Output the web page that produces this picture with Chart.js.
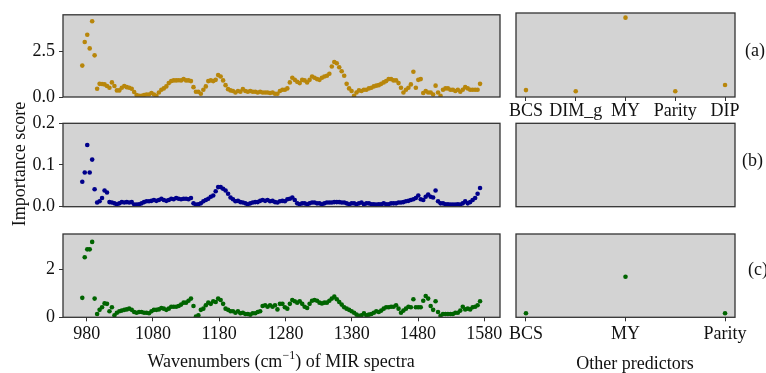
<!DOCTYPE html>
<html>
<head>
<meta charset="utf-8">
<title>Importance scores</title>
<script src="https://cdn.jsdelivr.net/npm/chart.js@4.4.1/dist/chart.umd.min.js"></script>
<style>
  body { margin: 0; background: #fff; }
  #wrap { position: relative; width: 766px; height: 373px; overflow: hidden;
          font-family: 'Liberation Serif', 'Times New Roman', serif; color: #111; }
  #wrap canvas { position: absolute; }
  .txt { position: absolute; font-size: 18px; line-height: 18px; white-space: nowrap; }
  .txt sup { font-size: 12px; vertical-align: 8px; line-height: 0; }
</style>
</head>
<body>
<div id="wrap">
  <canvas id="leftA"></canvas>
  <canvas id="leftB"></canvas>
  <canvas id="leftC"></canvas>
  <canvas id="rightA"></canvas>
  <canvas id="rightB"></canvas>
  <canvas id="rightC"></canvas>

  <div class="txt" style="left:-81px;top:155px;width:200px;text-align:center;transform:rotate(-90deg);">Importance score</div>
  <div class="txt" style="left:131px;top:352px;width:300px;text-align:center;">Wavenumbers (cm<sup>−1</sup>) of MIR spectra</div>
  <div class="txt" style="left:555px;top:354px;width:160px;text-align:center;">Other predictors</div>
  <div class="txt" style="left:745px;top:41px;">(a)</div>
  <div class="txt" style="left:742px;top:151px;">(b)</div>
  <div class="txt" style="left:748px;top:260px;">(c)</div>
</div>

<script>
// MIR wavenumbers (cm-1) of the plotted points
const wavenumbers = [
  973.4, 977.1, 980.9, 984.6, 988.3, 992.0, 995.8, 999.5, 1003.2, 1007.0,
  1010.7, 1014.4, 1018.1, 1021.9, 1025.6, 1029.3, 1033.0, 1036.8, 1040.5, 1044.2,
  1048.0, 1051.7, 1055.4, 1059.1, 1062.9, 1066.6, 1070.3, 1074.1, 1077.8, 1081.5,
  1085.2, 1089.0, 1092.7, 1096.4, 1100.2, 1103.9, 1107.6, 1111.3, 1115.1, 1118.8,
  1122.5, 1126.3, 1130.0, 1133.7, 1137.4, 1141.2, 1144.9, 1148.6, 1152.3, 1156.1,
  1159.8, 1163.5, 1167.3, 1171.0, 1174.7, 1178.4, 1182.2, 1185.9, 1189.6, 1193.4,
  1197.1, 1200.8, 1204.5, 1208.3, 1212.0, 1215.7, 1219.5, 1223.2, 1226.9, 1230.6,
  1234.4, 1238.1, 1241.8, 1245.5, 1249.3, 1253.0, 1256.7, 1260.5, 1264.2, 1267.9,
  1271.6, 1275.4, 1279.1, 1282.8, 1286.6, 1290.3, 1294.0, 1297.7, 1301.5, 1305.2,
  1308.9, 1312.7, 1316.4, 1320.1, 1323.8, 1327.6, 1331.3, 1335.0, 1338.7, 1342.5,
  1346.2, 1349.9, 1353.7, 1357.4, 1361.1, 1364.8, 1368.6, 1372.3, 1376.0, 1379.8,
  1383.5, 1387.2, 1390.9, 1394.7, 1398.4, 1402.1, 1405.9, 1409.6, 1413.3, 1417.0,
  1420.8, 1424.5, 1428.2, 1431.9, 1435.7, 1439.4, 1443.1, 1446.9, 1450.6, 1454.3,
  1458.0, 1461.8, 1465.5, 1469.2, 1473.0, 1476.7, 1480.4, 1484.1, 1487.9, 1491.6,
  1495.3, 1499.1, 1502.8, 1506.5, 1510.2, 1514.0, 1517.7, 1521.4, 1525.1, 1528.9,
  1532.6, 1536.3, 1540.1, 1543.8, 1547.5, 1551.2, 1555.0, 1558.7, 1562.4, 1566.2,
  1569.9, 1573.6
];

// (a) importance scores
const scoreA = [
  1.72, 3.01, 3.41, 2.66, 4.15, 2.28, 0.45, 0.72, 0.71, 0.69,
  0.60, 0.51, 0.80, 0.60, 0.36, 0.36, 0.51, 0.60, 0.54, 0.51,
  0.45, 0.27, 0.11, 0.07, 0.07, 0.11, 0.14, 0.14, 0.22, 0.14,
  0.07, 0.25, 0.40, 0.47, 0.58, 0.76, 0.87, 0.91, 0.91, 0.92,
  0.91, 0.98, 0.91, 0.91, 0.87, 0.54, 0.29, 0.29, 0.18, 0.40,
  0.58, 0.87, 0.91, 0.87, 0.94, 1.20, 1.12, 0.91, 0.65, 0.43,
  0.36, 0.33, 0.25, 0.33, 0.29, 0.43, 0.33, 0.29, 0.33, 0.29,
  0.29, 0.25, 0.29, 0.25, 0.25, 0.25, 0.22, 0.25, 0.18, 0.18,
  0.33, 0.40, 0.40, 0.47, 0.80, 1.05, 0.94, 0.83, 0.76, 0.94,
  0.91, 0.80, 0.94, 1.12, 1.05, 0.98, 0.94, 1.05, 1.12, 1.16,
  1.27, 1.67, 1.92, 1.85, 1.63, 1.41, 1.16, 0.72, 0.47, 0.33,
  0.07, 0.25, 0.36, 0.33, 0.40, 0.40, 0.47, 0.51, 0.58, 0.62,
  0.65, 0.72, 0.80, 0.87, 0.98, 0.98, 0.91, 0.91, 0.76, 0.51,
  0.25, 0.40, 0.51, 0.69, 1.38, 0.51, 0.94, 0.98, 0.22, 0.33,
  0.25, 0.25, 0.14, 0.62, 0.25, 0.07, 0.40, 0.47, 0.47, 0.40,
  0.40, 0.33, 0.40, 0.29, 0.40, 0.54, 0.47, 0.40, 0.40, 0.40,
  0.40, 0.72
];

// (b) importance scores
const scoreB = [
  0.060, 0.082, 0.148, 0.082, 0.113, 0.042, 0.010, 0.013, 0.021, 0.039,
  0.034, 0.011, 0.010, 0.008, 0.006, 0.008, 0.011, 0.010, 0.011, 0.010,
  0.011, 0.005, 0.005, 0.006, 0.008, 0.011, 0.013, 0.013, 0.014, 0.016,
  0.014, 0.016, 0.019, 0.016, 0.014, 0.016, 0.019, 0.018, 0.021, 0.019,
  0.018, 0.019, 0.019, 0.018, 0.021, 0.008, 0.005, 0.006, 0.008, 0.013,
  0.016, 0.019, 0.024, 0.027, 0.037, 0.047, 0.047, 0.043, 0.039, 0.031,
  0.022, 0.018, 0.013, 0.014, 0.011, 0.010, 0.008, 0.006, 0.008, 0.010,
  0.011, 0.011, 0.014, 0.016, 0.014, 0.016, 0.013, 0.014, 0.011, 0.010,
  0.013, 0.014, 0.013, 0.018, 0.019, 0.022, 0.016, 0.008, 0.006, 0.008,
  0.008, 0.006, 0.008, 0.010, 0.010, 0.008, 0.008, 0.006, 0.008, 0.010,
  0.010, 0.010, 0.011, 0.011, 0.011, 0.010, 0.010, 0.008, 0.006, 0.008,
  0.008, 0.006, 0.008, 0.010, 0.006, 0.008, 0.008, 0.006, 0.006, 0.005,
  0.006, 0.006, 0.008, 0.006, 0.006, 0.008, 0.008, 0.008, 0.010, 0.010,
  0.011, 0.013, 0.014, 0.016, 0.018, 0.021, 0.027, 0.018, 0.016, 0.024,
  0.029, 0.024, 0.022, 0.039, 0.013, 0.008, 0.008, 0.006, 0.006, 0.005,
  0.005, 0.005, 0.006, 0.005, 0.008, 0.013, 0.008, 0.011, 0.016, 0.021,
  0.031, 0.045
];

// (c) importance scores
const scoreC = [
  0.81, 2.50, 2.83, 2.83, 3.14, 0.78, 0.14, 0.31, 0.42, 0.58,
  0.56, 0.25, 0.42, 0.08, 0.19, 0.25, 0.28, 0.31, 0.33, 0.36,
  0.31, 0.22, 0.19, 0.22, 0.22, 0.19, 0.19, 0.17, 0.25, 0.31,
  0.31, 0.33, 0.39, 0.36, 0.31, 0.36, 0.44, 0.44, 0.44, 0.47,
  0.53, 0.61, 0.61, 0.69, 0.78, 0.47, 0.03, 0.08, 0.31, 0.36,
  0.50, 0.61, 0.56, 0.67, 0.64, 0.78, 0.72, 0.56, 0.36, 0.31,
  0.25, 0.25, 0.19, 0.25, 0.17, 0.19, 0.14, 0.14, 0.11, 0.17,
  0.17, 0.22, 0.25, 0.47, 0.50, 0.44, 0.50, 0.44, 0.50, 0.33,
  0.56, 0.56, 0.42, 0.36, 0.56, 0.72, 0.67, 0.61, 0.67, 0.56,
  0.44, 0.39, 0.56, 0.69, 0.72, 0.69, 0.61, 0.58, 0.61, 0.61,
  0.69, 0.78, 0.86, 0.75, 0.64, 0.53, 0.42, 0.36, 0.31, 0.25,
  0.19, 0.11, 0.06, 0.08, 0.17, 0.08, 0.11, 0.14, 0.19, 0.25,
  0.22, 0.28, 0.36, 0.42, 0.42, 0.44, 0.44, 0.50, 0.36, 0.19,
  0.28, 0.36, 0.44, 0.42, 0.75, 0.42, 0.42, 0.42, 0.69, 0.89,
  0.78, 0.47, 0.31, 0.67, 0.22, 0.06, 0.14, 0.14, 0.14, 0.14,
  0.14, 0.19, 0.19, 0.28, 0.44, 0.33, 0.36, 0.33, 0.42, 0.44,
  0.50, 0.67
];

// other predictors
const predictorsA = ['BCS', 'DIM_g', 'MY', 'Parity', 'DIP'];
const predictorScoreA = [0.37, 0.31, 4.25, 0.31, 0.64];
const predictorsC = ['BCS', 'MY', 'Parity'];
const predictorScoreC = [0.17, 1.69, 0.17];

// tick labels
const wavenumberTicks = [980, 1080, 1180, 1280, 1380, 1480, 1580];
const yTicksA = [0, 2.5];
const yTicksB = [0, 0.1, 0.2];
const yTicksC = [0, 2];

const colorA = '#b8860b';
const colorB = '#00008b';
const colorC = '#006400';
const axisColor = '#333';
const textColor = '#111';

Chart.defaults.font.family = "'Liberation Serif', 'Times New Roman', serif";
Chart.defaults.font.size = 18;
Chart.defaults.color = textColor;

// grey background + dark frame like matplotlib axes
const panelFrame = {
  id: 'panelFrame',
  beforeDraw(chart) {
    const { ctx, chartArea: a } = chart;
    ctx.save();
    ctx.fillStyle = '#d3d3d3';
    ctx.fillRect(a.left, a.top, a.width, a.height);
    ctx.restore();
  },
  afterDraw(chart) {
    const { ctx, chartArea: a } = chart;
    ctx.save();
    ctx.strokeStyle = axisColor;
    ctx.lineWidth = 1.3;
    ctx.strokeRect(a.left, a.top, a.width, a.height);
    ctx.restore();
  }
};

function tickGrid() {
  return { display: true, drawOnChartArea: false, drawTicks: true, tickLength: 4, color: axisColor };
}

function axis(min, max, ticks, fmt, pad) {
  if (!ticks) return { type: 'linear', display: false, min: min, max: max };
  return {
    type: 'linear', min: min, max: max,
    afterBuildTicks: (s) => { s.ticks = ticks.map((v) => ({ value: v })); },
    grid: tickGrid(),
    border: { display: false },
    ticks: { padding: pad, maxRotation: 0, autoSkip: false, callback: fmt }
  };
}

// box = canvas rect on the page, area = wanted plot rect on the page
function panel(id, box, area, points, color, scales) {
  const cv = document.getElementById(id);
  cv.width = box.w;
  cv.height = box.h;
  cv.style.left = box.x + 'px';
  cv.style.top = box.y + 'px';
  cv.style.width = box.w + 'px';
  cv.style.height = box.h + 'px';
  const padding = {
    left: area.l - box.x, top: area.t - box.y,
    right: box.x + box.w - area.r, bottom: box.y + box.h - area.b
  };
  const chart = new Chart(cv.getContext('2d'), {
    type: 'scatter',
    data: {
      datasets: [{
        data: points,
        backgroundColor: color,
        borderWidth: 0,
        pointRadius: 2.3,
        clip: 0
      }]
    },
    options: {
      responsive: false,
      animation: false,
      events: [],
      layout: { padding: padding },
      plugins: { legend: { display: false }, tooltip: { enabled: false } },
      scales: scales
    },
    plugins: [panelFrame]
  });
  // nudge the padding until the plot area sits where the reference has it
  for (let k = 0; k < 6; k++) {
    const a = chart.chartArea;
    const dl = area.l - box.x - a.left, dt = area.t - box.y - a.top;
    const dr = a.right - (area.r - box.x), db = a.bottom - (area.b - box.y);
    if (Math.abs(dl) + Math.abs(dt) + Math.abs(dr) + Math.abs(db) < 0.2) break;
    padding.left += dl; padding.top += dt; padding.right += dr; padding.bottom += db;
    chart.options.layout.padding = Object.assign({}, padding);
    chart.update();
  }
  return chart;
}

const xMin = 944.3, xMax = 1603.7;
const fmt1 = (v) => Number(v).toFixed(1);
const fmt0 = (v) => String(v);

panel('leftA', { x: 0, y: 0, w: 512, h: 118 }, { l: 63, t: 13, r: 500, b: 97 },
  wavenumbers.map((w, i) => ({ x: w, y: scoreA[i] })), colorA,
  { x: axis(xMin, xMax), y: axis(0, 4.5, yTicksA, fmt1, 4) });

panel('leftB', { x: 0, y: 104, w: 512, h: 124 }, { l: 63, t: 123.3, r: 500, b: 206.7 },
  wavenumbers.map((w, i) => ({ x: w, y: scoreB[i] })), colorB,
  { x: axis(xMin, xMax), y: axis(0, 0.2, yTicksB, fmt1, 4) });

panel('leftC', { x: 0, y: 214, w: 512, h: 140 }, { l: 63, t: 234, r: 500, b: 317.3 },
  wavenumbers.map((w, i) => ({ x: w, y: scoreC[i] })), colorC,
  { x: axis(xMin, xMax, wavenumberTicks, fmt0, 2), y: axis(0, 3.47, yTicksC, fmt0, 4) });

panel('rightA', { x: 503, y: 0, w: 250, h: 130 }, { l: 516, t: 13, r: 735, b: 97 },
  predictorsA.map((p, i) => ({ x: i, y: predictorScoreA[i] })), colorA,
  { x: axis(-0.2, 4.2, predictorsA.map((p, i) => i), (v) => predictorsA[v], -1), y: axis(0, 4.5) });

panel('rightB', { x: 503, y: 104, w: 250, h: 124 }, { l: 516, t: 123.3, r: 735, b: 206.7 },
  [], colorB,
  { x: axis(-0.2, 4.2), y: axis(0, 0.2) });

panel('rightC', { x: 503, y: 214, w: 250, h: 140 }, { l: 516, t: 234, r: 735, b: 317.3 },
  predictorsC.map((p, i) => ({ x: i, y: predictorScoreC[i] })), colorC,
  { x: axis(-0.1, 2.1, predictorsC.map((p, i) => i), (v) => predictorsC[v], 2), y: axis(0, 3.47) });
</script>
</body>
</html>
